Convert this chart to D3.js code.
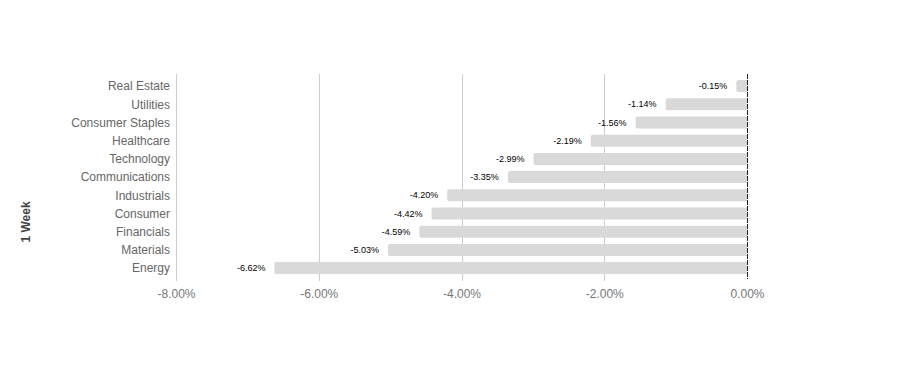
<!DOCTYPE html>
<html><head><meta charset="utf-8">
<script src="https://cdn.jsdelivr.net/npm/d3@7"></script>
<style>body{margin:0;background:#fff}svg{display:block}</style>
</head><body>
<svg id="c" width="924" height="391"></svg>
<script>
const categories = ["Real Estate","Utilities","Consumer Staples","Healthcare","Technology","Communications","Industrials","Consumer","Financials","Materials","Energy"];
const values = [-0.15,-1.14,-1.56,-2.19,-2.99,-3.35,-4.20,-4.42,-4.59,-5.03,-6.62];
const xTicks = [-8,-6,-4,-2,0];
const axisTitle = "1 Week";

const svg = d3.select("#c");
const font = "Arial, 'Liberation Sans', sans-serif";
const x = d3.scaleLinear().domain([-8,0]).range([176,747]);
const y = d3.scaleBand().domain(categories).range([77,277.2]).paddingInner(0.34).paddingOuter(0.17);
const plotTop = 74, plotBottom = 281;

// gridlines
const grid = svg.append("g").attr("class","grid");
xTicks.filter(t=>t!==0).forEach(t=>{
  grid.append("line").attr("x1",Math.round(x(t))+0.5).attr("x2",Math.round(x(t))+0.5)
    .attr("y1",plotTop).attr("y2",plotBottom).attr("stroke","#cccccc").attr("stroke-width",1);
});

// bars with rounded left corners
const r = 2;
svg.append("g").selectAll("path").data(categories).join("path")
  .attr("d",(c,i)=>{
    const x0 = x(values[i]), x1 = x(0), y0 = y(c), h = y.bandwidth();
    return `M${x1},${y0}H${x0+r}Q${x0},${y0} ${x0},${y0+r}V${y0+h-r}Q${x0},${y0+h} ${x0+r},${y0+h}H${x1}Z`;
  })
  .attr("fill","#d9d9d9");

// zero line dashed
svg.append("line").attr("x1",Math.round(x(0))+0.5).attr("x2",Math.round(x(0))+0.5)
  .attr("y1",plotTop).attr("y2",plotBottom-2).attr("stroke","#222").attr("stroke-width",1)
  .attr("stroke-dasharray","5,1");

// value labels
svg.append("g").selectAll("text").data(categories).join("text")
  .attr("x",(c,i)=>x(values[i])-9)
  .attr("y",c=>y(c)+y.bandwidth()/2+3)
  .attr("text-anchor","end")
  .attr("font-family",font).attr("font-size",9).attr("fill","#000")
  .text((c,i)=>values[i].toFixed(2)+"%");

// y axis
const yAxis = d3.axisLeft(y).tickSize(0).tickPadding(6);
const gy = svg.append("g").attr("transform","translate(176,0)").call(yAxis);
gy.select(".domain").remove();
gy.append("line").attr("x1",0.5).attr("x2",0.5).attr("y1",plotTop).attr("y2",plotBottom).attr("stroke","#cccccc");
gy.selectAll("text").attr("font-family",font).attr("font-size",12).attr("fill","#666").attr("dy","0.35em");

// x axis
const xAxis = d3.axisBottom(x).tickValues(xTicks).tickSize(0).tickPadding(8).tickFormat(d=>d.toFixed(2)+"%");
const gx = svg.append("g").attr("transform",`translate(0,${plotBottom})`).call(xAxis);
gx.select(".domain").remove();
gx.selectAll("text").attr("font-family",font).attr("font-size",12).attr("fill","#777");

// axis title
svg.append("text").attr("transform","translate(30,222) rotate(-90)")
  .attr("text-anchor","middle").attr("font-family",font).attr("font-size",12)
  .attr("font-weight","bold").attr("fill","#444").text(axisTitle);
</script>
</body></html>
